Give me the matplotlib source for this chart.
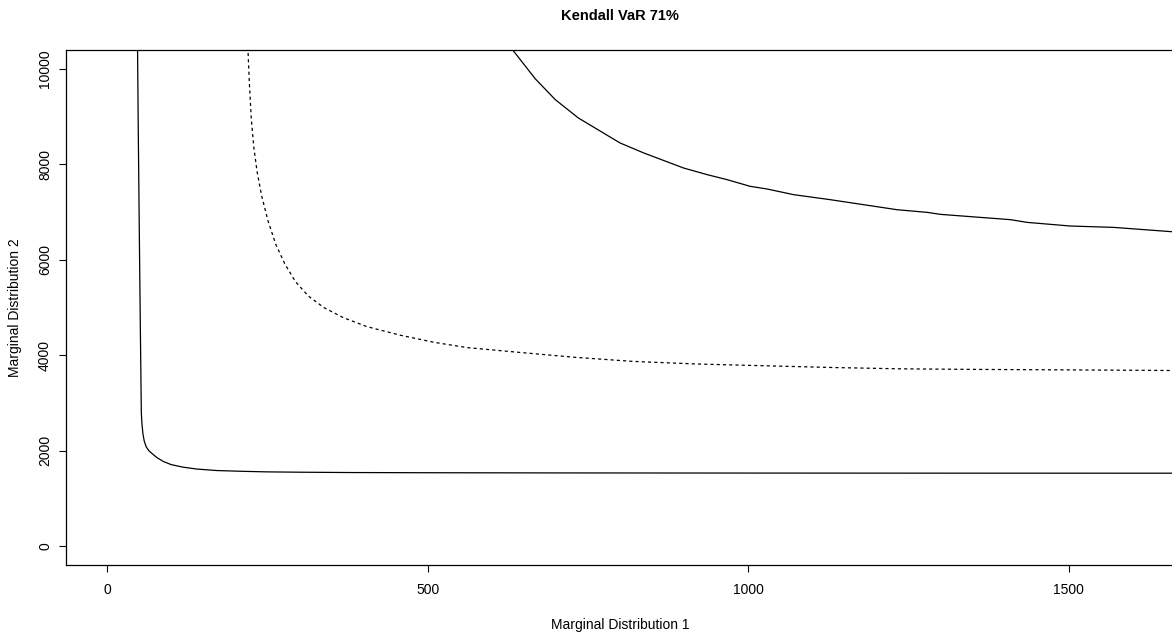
import matplotlib
matplotlib.use("Agg")
import matplotlib.pyplot as plt

plt.rcParams['font.family'] = ['Liberation Sans', 'DejaVu Sans']

# lower solid curve
low_x = [47.5, 48.5, 50, 52, 53.5, 54.5, 56, 58, 61, 65, 70, 78, 88, 100,
         119, 140, 171, 210, 249, 300, 379, 500, 700, 1000, 1300, 1670]
low_y = [10600, 9000, 7000, 4500, 2785, 2550, 2350, 2200, 2080, 2000, 1940,
         1850, 1770, 1705, 1651, 1612, 1581, 1565, 1553, 1546, 1539, 1535,
         1531, 1528, 1526, 1525]

# middle dashed curve
mid_x = [219, 220, 222, 225, 229, 234, 241, 251, 263, 277, 294, 314, 338,
         368, 405, 457, 510, 561, 642, 730, 820, 920, 1029, 1130, 1237, 1340,
         1450, 1560, 1670]
mid_y = [10600, 10340, 9700, 8950, 8350, 7850, 7350, 6820, 6330, 5920, 5540,
         5240, 5000, 4790, 4600, 4420, 4270, 4160, 4060, 3955, 3870, 3815,
         3777, 3742, 3714, 3703, 3695, 3687, 3678]

# upper solid curve
up_x = [627, 633, 668, 699, 735, 800, 837, 899, 936, 967, 1003, 1029, 1071,
        1128, 1232, 1279, 1300, 1409, 1435, 1502, 1570, 1670]
up_y = [10500, 10395, 9794, 9360, 8975, 8451, 8241, 7926, 7786, 7681, 7541,
        7486, 7366, 7261, 7051, 6995, 6953, 6842, 6785, 6709, 6680, 6580]

x_ticks = [0, 500, 1000, 1500]
y_ticks = [0, 2000, 4000, 6000, 8000, 10000]

fig = plt.figure(figsize=(11.72, 6.33), dpi=100)
ax = fig.add_axes([66 / 1172, 68 / 633, 1108 / 1172, 515 / 633])

ax.plot(low_x, low_y, color='black', linewidth=0.9)
ax.plot(mid_x, mid_y, color='black', linewidth=0.9, linestyle=(0, (2.5, 2.5)))
ax.plot(up_x, up_y, color='black', linewidth=0.9)

ax.set_xlim(-64, 1664)
ax.set_ylim(-400, 10400)
ax.set_xticks(x_ticks)
ax.set_yticks(y_ticks)
ax.tick_params(direction='out', length=5, width=0.8, labelsize=10)
ax.tick_params(axis='x', pad=8)
ax.tick_params(axis='y', pad=5, labelrotation=90)
plt.setp(ax.get_yticklabels(), va='center')

ax.spines['right'].set_visible(False)
for side in ('left', 'top', 'bottom'):
    ax.spines[side].set_linewidth(0.9)

# title centred over the plot region
fig.text(620 / 1172, 1 - 15.5 / 633, 'Kendall VaR 71%', fontsize=10.5,
         fontweight='bold', ha='center', va='center')
ax.set_xlabel('Marginal Distribution 1', fontsize=10, va='center')
ax.xaxis.set_label_coords(0.5, (565 - 625) / 515)
ax.set_ylabel('Marginal Distribution 2', fontsize=10, va='center')
ax.yaxis.set_label_coords((15.5 - 66) / 1108, 0.5)

fig.savefig('out.png', dpi=100)
